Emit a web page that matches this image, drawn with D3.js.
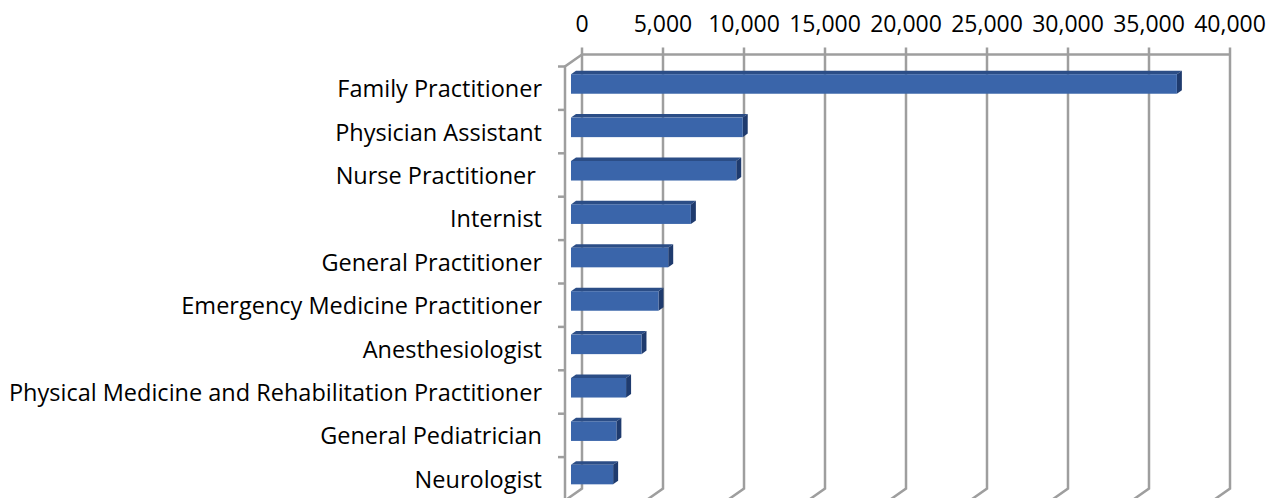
<!DOCTYPE html>
<html>
<head>
<meta charset="utf-8">
<script src="https://cdn.jsdelivr.net/npm/d3@7"></script>
<style>
  body { margin: 0; background: #fff; }
  text { font-family: "Open Sans", sans-serif; fill: #000; }
</style>
</head>
<body>
<div id="chart"></div>
<script>
// categories and values
const categories = [
  "Family Practitioner",
  "Physician Assistant",
  "Nurse Practitioner ",
  "Internist",
  "General Practitioner",
  "Emergency Medicine Practitioner",
  "Anesthesiologist",
  "Physical Medicine and Rehabilitation Practitioner",
  "General Pediatrician",
  "Neurologist"
];
const values = [37400, 10600, 10200, 7400, 6000, 5400, 4350, 3400, 2800, 2600];
const tickValues = [0, 5000, 10000, 15000, 20000, 25000, 30000, 35000, 40000];

const width = 1269, height = 498;

// oblique 3d: front plane + depth vector
const front = {left: 565, right: 1213, top: 66.5, bottom: 500.5};
const depth = {dx: 17, dy: -12};
const inset = 6 / 17;     // bar front face depth
const barDepth = 5 / 17;  // bar thickness in depth

const x = d3.scaleLinear().domain([0, 40000]).range([front.left, front.right]);
const y = d3.scaleBand().domain(categories).range([front.top, front.bottom]);

const svg = d3.select("#chart").append("svg")
  .attr("width", width)
  .attr("height", height);

const grid = svg.append("g")
  .attr("fill", "none")
  .attr("stroke", "#9e9e9e")
  .attr("stroke-width", 2.5);

// back wall gridlines + floor diagonals
tickValues.forEach(v => {
  const bx = x(v) + depth.dx;
  grid.append("path")
    .attr("d", `M${bx},${front.top + depth.dy - 7}L${bx},${front.bottom + depth.dy}L${x(v)},${front.bottom}`);
});
// top edge of back wall
grid.append("line")
  .attr("x1", x(0) + depth.dx).attr("x2", x(40000) + depth.dx)
  .attr("y1", front.top + depth.dy).attr("y2", front.top + depth.dy);

// left wall
grid.append("path")
  .attr("d", `M${x(0) + depth.dx},${front.top + depth.dy}L${x(0)},${front.top}L${x(0)},${front.bottom}`);
// left wall ticks at category boundaries
d3.range(categories.length + 1).forEach(i => {
  const yy = front.top + i * y.step();
  grid.append("line")
    .attr("x1", x(0) - 7).attr("x2", x(0))
    .attr("y1", yy).attr("y2", yy);
});

// value axis labels on top
svg.append("g")
  .selectAll("text")
  .data(tickValues)
  .join("text")
  .attr("x", d => x(d) + depth.dx)
  .attr("y", 31.5)
  .attr("text-anchor", "middle")
  .style("font-size", "23px")
  .text(d3.format(","));

// category labels
svg.append("g")
  .selectAll("text")
  .data(categories)
  .join("text")
  .attr("x", 542)
  .attr("y", d => y(d) + y.bandwidth() / 2 + 9)
  .attr("text-anchor", "end")
  .attr("xml:space", "preserve")
  .style("white-space", "pre")
  .style("font-size", "23.5px")
  .text(d => d);

// bars
const ox = inset * depth.dx, oy = inset * depth.dy;
const bx = barDepth * depth.dx, by = barDepth * depth.dy;
const barH = y.bandwidth() * 0.45;

const bars = svg.append("g")
  .selectAll("g")
  .data(categories.map((c, i) => ({c, v: values[i]})))
  .join("g");

bars.each(function (d) {
  const g = d3.select(this);
  const x0 = x(0) + ox, x1 = x(d.v) + ox;
  const cy = y(d.c) + y.bandwidth() / 2 + oy;
  const yt = cy - barH / 2, yb = cy + barH / 2;
  // top face
  g.append("path")
    .attr("d", `M${x0},${yt}L${x0 + bx},${yt + by}L${x1 + bx},${yt + by}L${x1},${yt}Z`)
    .attr("fill", "#2b4d86");
  // end face
  g.append("path")
    .attr("d", `M${x1},${yt}L${x1 + bx},${yt + by}L${x1 + bx},${yb + by}L${x1},${yb}Z`)
    .attr("fill", "#1f3b6e");
  // front face
  g.append("rect")
    .attr("x", x0).attr("y", yt)
    .attr("width", x1 - x0).attr("height", barH)
    .attr("fill", "#3a65aa");
});
</script>
</body>
</html>
